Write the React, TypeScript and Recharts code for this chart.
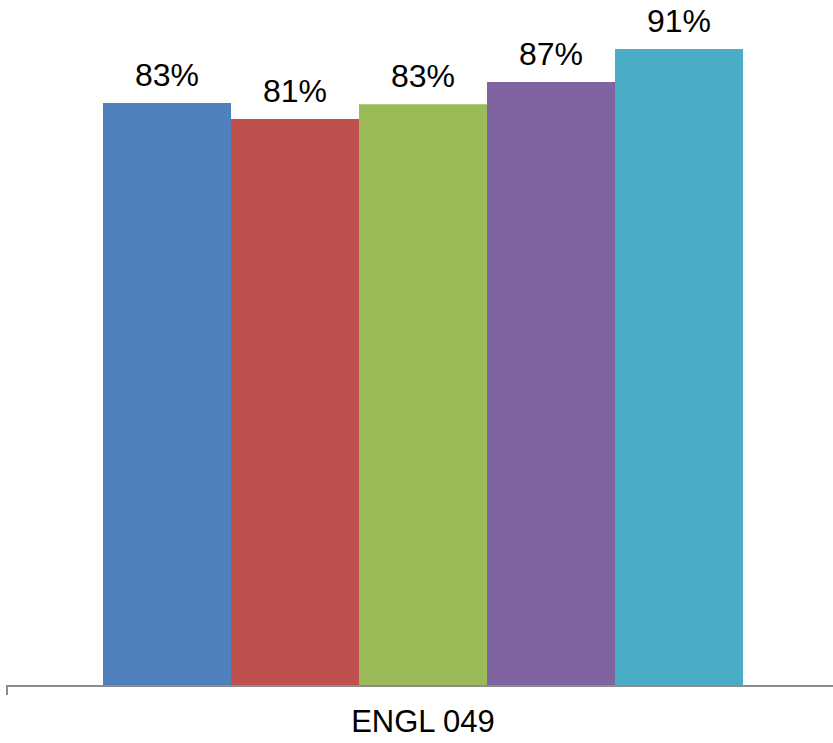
import { BarChart, Bar, XAxis, YAxis, LabelList } from "recharts";

const categories = ["ENGL 049"];
const seriesNames = ["Series 1", "Series 2", "Series 3", "Series 4", "Series 5"];
const series1 = [83.3];
const series2 = [81];
const series3 = [83.1];
const series4 = [86.3];
const series5 = [91];
const seriesValues = [series1, series2, series3, series4, series5];
// labels as printed on the chart
const seriesLabels = ["83%", "81%", "83%", "87%", "91%"];

const COLORS = ["#4F81BD", "#C0504D", "#9BBB59", "#8064A2", "#4BACC6"];

const WIDTH = 833;
const HEIGHT = 743;
const AXIS_LEFT = 7;
const OVERHANG = 6;

const data = categories.map((name, i) => {
  const row: Record<string, string | number> = { name };
  seriesNames.forEach((s, j) => {
    row[s] = seriesValues[j][i];
  });
  return row;
});

function CategoryTick(props: any) {
  const { x, y, payload } = props;
  const half = (WIDTH - AXIS_LEFT + OVERHANG) / 2;
  return (
    <g>
      <line x1={x - half} y1={y - 1} x2={x - half} y2={y + 9} stroke="#8c8c8c" strokeWidth={2} />
      <text
        x={x}
        y={y + 46}
        textAnchor="middle"
        fontSize={31}
        fontFamily="'Liberation Sans', Arial, sans-serif"
        fill="#000"
      >
        {payload.value}
      </text>
    </g>
  );
}

export default function App() {
  return (
    <div style={{ position: "absolute", left: 0, top: 0, background: "#fff" }}>
      <BarChart
        width={WIDTH}
        height={HEIGHT}
        data={data}
        margin={{ top: 0, right: -OVERHANG, bottom: 0, left: AXIS_LEFT }}
        barGap={0}
        barSize={128}
      >
        <XAxis
          dataKey="name"
          height={57}
          axisLine={{ stroke: "#8c8c8c", strokeWidth: 2 }}
          tickLine={false}
          tickSize={0}
          tickMargin={0}
          tick={<CategoryTick />}
        />
        <YAxis hide domain={[0, 98]} />
        {seriesNames.map((s, j) => (
          <Bar key={s} dataKey={s} fill={COLORS[j]} isAnimationActive={false}>
            <LabelList
              dataKey={s}
              position="top"
              offset={17}
              formatter={() => seriesLabels[j]}
              style={{ fontSize: 32, fill: "#000", fontFamily: "'Liberation Sans', Arial, sans-serif" }}
            />
          </Bar>
        ))}
      </BarChart>
    </div>
  );
}
